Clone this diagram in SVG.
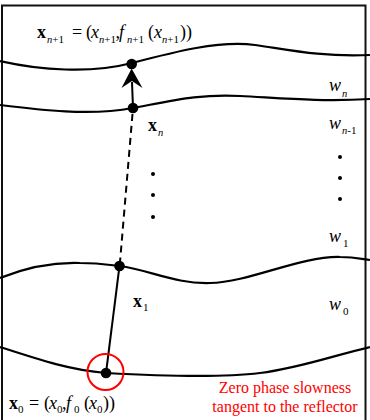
<svg xmlns="http://www.w3.org/2000/svg" width="370" height="420" viewBox="0 0 370 420">
<style>
.t{font-family:"Liberation Serif","Times New Roman",serif;font-size:18px;fill:#000}
.b{font-weight:bold}
.i{font-style:italic}
.s{font-size:10.5px;font-style:italic}
.su{font-size:11px}
.curve{fill:none;stroke:#000;stroke-width:2.2}
.ln{fill:none;stroke:#000;stroke-width:2}
.pt{fill:#000}
.red{font-family:"Liberation Serif","Times New Roman",serif;font-size:16px;fill:#f00;text-anchor:middle}
</style>
<rect x="2" y="5.5" width="363.5" height="420" fill="#fff" stroke="#111" stroke-width="2"/>
<g id="reflectors">
<path class="curve" d="M0,61 C40,70 90,74 132,63 S220,40 255,45 S320,57 370,55"/>
<path class="curve" d="M0,105 C40,110 90,116 133,108 S200,94 240,96 S320,102 370,99"/>
<path class="curve" d="M0,278 C25,268 50,262 80,263 C100,263 110,265 119.5,266 C150,270 175,284 210,283 C250,282 300,256 340,257 C355,257 362,259 370,260"/>
<path class="curve" d="M0,347 C40,360 70,370 106,373 C160,376 220,378 260,373 C300,368 335,355 370,347"/>
</g>
<g id="connectors">
<line class="ln" x1="133" y1="108" x2="132" y2="82"/>
<path class="pt" d="M131.6,68.5 L142.5,88 L131.9,81 L121.5,88 Z"/>
<line class="ln" x1="132.5" y1="114" x2="120" y2="262" stroke-width="2.4" stroke-dasharray="7,5"/>
<line class="ln" x1="119.5" y1="266" x2="106" y2="373"/>
</g>
<g id="node-xn1">
<circle class="pt" cx="131.7" cy="64" r="5.3"/>
<text class="t" y="38"><tspan x="37" class="b">x</tspan><tspan x="47" y="43" class="s">n</tspan><tspan class="su" y="43">+1</tspan><tspan x="72" y="38">=</tspan><tspan x="86" y="38">(</tspan><tspan x="91" y="38" class="i">x</tspan><tspan x="99" y="43" class="s">n</tspan><tspan class="su" y="43">+1</tspan><tspan x="115.5" y="38">,</tspan><tspan x="119" y="38" class="i">f</tspan><tspan x="127" y="43" class="s">n</tspan><tspan class="su" y="43">+1</tspan><tspan x="148" y="38">(</tspan><tspan x="154" y="38" class="i">x</tspan><tspan x="162" y="43" class="s">n</tspan><tspan class="su" y="43">+1</tspan><tspan x="180" y="38">))</tspan></text>
</g>
<g id="node-xn">
<circle class="pt" cx="133" cy="108" r="5.3"/>
<text class="t" y="131"><tspan x="148" class="b">x</tspan><tspan x="158" y="136" class="s">n</tspan></text>
</g>
<g id="node-x1">
<circle class="pt" cx="119.5" cy="266" r="5.3"/>
<text class="t" y="307"><tspan x="133" class="b">x</tspan><tspan x="143" y="311" class="su">1</tspan></text>
</g>
<g id="node-x0">
<circle class="pt" cx="106" cy="373" r="5.3"/>
<circle cx="105.5" cy="372" r="18" fill="none" stroke="#f00" stroke-width="2"/>
<text class="t" y="409"><tspan x="9" class="b">x</tspan><tspan x="18" y="413" class="su">0</tspan><tspan x="29" y="409">=</tspan><tspan x="44" y="409">(</tspan><tspan x="49" y="409" class="i">x</tspan><tspan x="57" y="413" class="su">0</tspan><tspan x="62" y="409">,</tspan><tspan x="66" y="409" class="i">f</tspan><tspan x="74" y="413" class="su">0</tspan><tspan x="84" y="409">(</tspan><tspan x="89" y="409" class="i">x</tspan><tspan x="97" y="413" class="su">0</tspan><tspan x="103" y="409">))</tspan></text>
</g>
<g id="layers">
<text class="t" y="91"><tspan x="329" class="i">w</tspan><tspan x="342" y="97" class="s">n</tspan></text>
<text class="t" y="129"><tspan x="329" class="i">w</tspan><tspan x="342" y="134" class="s">n</tspan><tspan class="su" y="134">-1</tspan></text>
<text class="t" y="242"><tspan x="329" class="i">w</tspan><tspan x="343" y="247" class="su">1</tspan></text>
<text class="t" y="310"><tspan x="329" class="i">w</tspan><tspan x="343" y="315" class="su">0</tspan></text>
</g>
<g id="ellipses" class="pt">
<circle cx="153" cy="174" r="2"/>
<circle cx="153" cy="195" r="2"/>
<circle cx="153" cy="217" r="2"/>
<circle cx="340" cy="157" r="2"/>
<circle cx="340" cy="178" r="2"/>
<circle cx="340" cy="199" r="2"/>
</g>
<g id="note">
<text class="red" x="285" y="393">Zero phase slowness</text>
<text class="red" x="285" y="412">tangent to the reflector</text>
</g>
</svg>
